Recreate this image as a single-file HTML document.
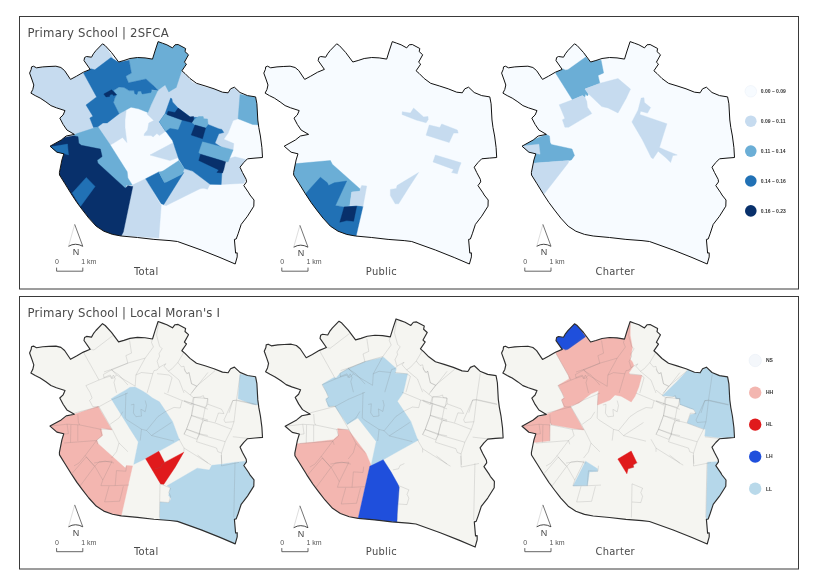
<!DOCTYPE html><html><head><meta charset="utf-8"><title>Primary School accessibility maps</title>
<style>
html,body{margin:0;padding:0;background:#fff;}
body{width:831px;height:584px;overflow:hidden;position:relative;font-family:"DejaVu Sans Condensed","DejaVu Sans","Liberation Sans",sans-serif;}
svg{position:absolute;left:0;top:0;}
.ttl{font-family:"DejaVu Sans Condensed","DejaVu Sans","Liberation Sans",sans-serif;font-size:13px;fill:#4a4a4a;letter-spacing:0.2px;}
.lab{font-family:"DejaVu Sans Condensed","DejaVu Sans","Liberation Sans",sans-serif;font-size:11px;fill:#4a4a4a;letter-spacing:0.3px;}
.sc{font-family:"Liberation Sans",sans-serif;font-size:7px;fill:#555;}
.nn{font-family:"Liberation Sans",sans-serif;font-size:9px;fill:#444;}
.lg{font-family:"Liberation Sans",sans-serif;font-size:5px;font-weight:bold;fill:#333;}
</style></head><body>
<svg width="831" height="584" viewBox="0 0 831 584">
<defs>
<path id="ol" d="M50.0 146.2 L61.2 140.0 L66.2 136.0 L74.4 134.4 L66.9 130.0 L63.1 124.4 L59.8 118.1 L63.1 115.0 L65.0 110.6 L56.4 107.8 L50.9 105.6 L45.9 101.9 L40.2 98.1 L35.2 95.6 L30.9 93.1 L32.8 89.4 L33.8 85.0 L32.1 80.0 L29.6 73.1 L31.2 69.4 L31.5 66.9 L33.4 66.2 L36.5 67.8 L42.8 66.9 L49.0 66.5 L55.9 66.2 L60.9 67.5 L64.6 70.6 L70.5 79.4 L76.5 76.2 L83.4 72.2 L90.2 69.4 L84.0 60.6 L84.6 57.5 L86.5 56.5 L91.5 57.2 L93.4 53.8 L95.9 50.6 L102.5 43.8 L105.2 45.6 L111.5 52.5 L118.6 62.0 L123.9 60.5 L130.0 58.5 L137.5 57.5 L145.0 57.9 L152.5 59.1 L155.0 51.0 L158.1 41.6 L162.5 43.2 L166.9 44.8 L172.5 47.9 L175.0 44.8 L178.1 44.5 L185.6 48.5 L185.0 51.6 L188.5 54.8 L184.4 62.2 L186.5 64.1 L181.9 70.8 L185.0 73.5 L190.0 78.5 L196.5 83.3 L205.0 85.9 L214.0 88.8 L222.5 92.2 L228.1 92.8 L230.6 88.8 L234.4 87.2 L240.0 92.5 L247.5 95.6 L255.6 96.9 L256.9 103.8 L257.8 120.0 L258.8 127.5 L260.4 136.0 L261.9 147.5 L262.5 157.5 L255.0 158.1 L247.5 158.8 L243.8 162.5 L240.0 167.2 L242.5 172.5 L246.2 179.4 L246.5 181.9 L243.8 185.6 L248.8 192.9 L250.0 195.0 L254.0 200.0 L253.8 206.2 L247.5 216.2 L241.2 224.4 L238.1 233.8 L236.2 239.0 L234.4 239.4 L235.6 253.1 L237.2 252.8 L237.2 256.9 L235.2 264.0 L220.0 257.5 L201.2 250.0 L177.5 241.5 L170.0 240.6 L153.9 239.4 L137.5 237.5 L121.2 236.0 L112.5 234.4 L103.8 231.2 L96.2 226.2 L88.8 218.1 L82.5 210.0 L76.9 202.5 L71.2 193.8 L65.0 183.8 L59.5 175.0 L59.4 172.5 L61.9 160.0 L63.8 153.8 L56.9 152.2Z"/>
<clipPath id="clip"><use href="#ol"/></clipPath>
<g id="arrow"><path d="M74.7 224.4 L68.5 246.3 Q75.4 242.2 82.8 246.3 Z" fill="#fff"/>
<path d="M74.7 224.4 L68.5 246.3" fill="none" stroke="#b5b5b5" stroke-width="0.45"/>
<path d="M74.7 224.4 L82.8 246.3" fill="none" stroke="#3a3a3a" stroke-width="0.7"/>
<path d="M68.5 246.3 Q75.4 242.2 82.8 246.3" fill="none" stroke="#333" stroke-width="0.9"/>
<text class="nn" x="75.9" y="255.3" text-anchor="middle">N</text></g>
<g id="bar"><path d="M56.6 267.6 V271.2 H82.8 V267.6" fill="none" stroke="#555" stroke-width="0.9"/>
<text class="sc" x="56.9" y="264.1" text-anchor="middle">0</text><text class="sc" x="81.2" y="264.1">1 km</text></g>
<path id="tl" d="M83.4 72.3 L99.0 100.1 L104.0 98.2 L103.4 94.5 L111.5 90.1 L127.9 83.2 M90.2 69.5 L94.0 70.1 L112.8 55.7 M99.0 100.1 L85.9 105.7 L90.2 113.0 M104.0 98.2 L110.2 96.3 L111.5 98.8 L113.4 95.1 L115.2 98.8 L114.0 102.6 L116.5 113.0 M111.5 90.1 L119.0 95.1 L127.9 105.1 M129.6 60.7 L131.5 73.2 L125.9 75.7 L127.8 83.2 L111.5 89.5 L104.0 92.0 M127.8 83.2 L145.2 78.2 M152.1 60.1 L151.5 62.6 L153.4 67.0 L145.2 78.2 L135.9 95.1 L135.2 106.3 M159.0 42.0 L156.5 55.1 L159.6 66.3 L162.1 68.8 L159.0 73.8 L159.6 76.3 L157.1 81.3 L159.0 87.6 L165.9 83.8 M184.0 72.0 L177.8 82.6 L172.1 88.8 L168.4 91.3 L164.0 86.3 L165.9 83.8 M177.8 82.6 L181.5 87.0 L184.0 86.3 L185.2 91.3 L187.8 93.8 L189.0 92.6 L191.5 103.8 L197.1 106.3 M135.9 95.1 L141.5 92.6 L152.8 93.8 L154.0 90.7 L157.1 90.1 L159.0 87.6 M111.5 89.5 L116.5 95.1 L112.8 98.8 L110.2 95.1 L104.0 97.6 M116.5 95.1 L135.2 106.3 M152.8 93.8 L147.1 113.0 M157.1 93.8 L169.0 95.1 L172.1 97.6 L167.8 113.0 M168.4 91.3 L179.0 100.1 L184.0 113.0 M197.1 106.3 L207.9 92.6 M197.1 106.3 L191.5 113.0 M215.2 90.7 L196.5 106.3 L190.2 115.1 L184.0 110.1 M184.0 88.8 L186.5 93.8 L189.0 92.6 L191.5 103.8 L196.5 106.3 M190.2 115.1 L193.4 117.6 L200.2 117.0 L203.4 115.7 L204.0 118.2 L207.8 118.8 L205.9 127.6 M193.4 117.6 L191.5 125.1 L184.0 121.3 M232.8 120.7 L236.5 120.1 L240.2 94.5 M232.8 120.7 L229.0 133.0 M236.5 120.1 L256.5 124.5 M77.8 134.3 L78.4 142.5 L79.6 145.0 L100.2 149.3 L102.1 155.6 L96.5 160.6 L97.8 164.3 M50.2 146.2 L67.1 144.3 L79.6 145.0 M67.1 144.3 L68.4 153.7 L64.0 154.3 M70.9 145.0 L70.5 162.5 M77.8 145.0 L77.8 161.2 M64.0 163.1 L96.5 160.6 M96.5 160.6 L85.2 175.6 L94.0 186.0 M85.2 175.6 L79.0 183.1 L74.0 186.0 M94.0 183.1 L105.2 181.2 L114.0 183.1 M90.2 113.1 L92.1 118.1 L89.6 120.6 L92.8 126.8 L99.0 126.8 L111.5 120.0 L127.9 113.1 M74.6 133.1 L99.0 126.8 L112.1 149.3 L100.2 149.3 M110.2 144.3 L119.0 138.1 L122.8 131.8 M112.1 149.3 L119.0 163.1 L116.5 171.8 L111.5 178.1 M119.0 163.1 L127.9 171.8 M125.9 113.1 L125.2 138.1 L127.1 140.0 L141.5 149.3 L146.5 150.6 L157.8 136.8 L165.2 131.8 M141.5 149.3 L140.2 160.6 M146.5 150.6 L151.5 155.6 L171.5 142.5 M151.5 155.6 L174.0 161.2 M130.9 125.0 L134.0 124.3 L133.4 133.1 L135.9 136.8 L141.5 136.2 L140.9 129.3 L145.2 131.8 L146.5 125.6 L145.2 120.6 M165.2 131.8 L174.0 127.5 L180.2 128.1 L182.1 120.6 L194.0 124.3 L207.9 129.3 M182.1 120.6 L164.0 113.1 M194.0 124.3 L191.5 135.6 L186.5 149.3 L184.0 154.3 L196.5 159.3 L199.0 155.6 L201.5 144.3 L204.0 140.6 L207.9 141.2 M191.5 135.6 L207.9 140.0 M186.5 149.3 L201.5 154.3 L207.9 155.6 M179.0 159.3 L184.0 168.1 L207.9 183.1 M184.0 168.1 L184.0 171.8 M184.0 120.6 L194.0 124.3 L205.2 127.5 L207.8 124.3 L221.5 129.3 L224.0 133.7 L218.4 133.1 L215.2 142.5 M194.0 117.5 L207.8 118.7 L207.8 124.3 M194.0 117.5 L191.5 135.6 L186.5 149.3 L184.0 154.3 M205.2 127.5 L202.8 140.0 L199.0 154.3 L196.5 161.8 M191.5 135.6 L202.8 140.0 L215.2 143.1 L231.5 149.3 M186.5 149.3 L199.0 154.3 L225.2 161.8 M196.5 161.8 L216.5 168.1 L217.8 171.8 L221.5 173.1 M232.8 120.6 L236.5 120.6 L234.0 141.8 L231.5 149.3 L225.2 161.8 L221.5 173.1 L221.5 186.0 M232.8 120.6 L224.0 140.0 L225.2 142.5 L234.0 141.8 M236.5 120.6 L256.5 125.0 M232.8 156.8 L244.0 158.1 L251.5 158.7 M221.5 186.0 L239.0 182.5 M86.2 177.2 L94.8 186.2 L80.0 206.2 L71.9 193.7 L86.2 177.2 M94.8 186.2 L102.8 200.1 L100.9 205.7 L115.2 205.7 L129.0 205.1 M94.8 186.2 L99.0 182.0 L112.1 181.3 L102.8 200.1 M116.5 190.7 L125.9 191.3 L126.5 185.7 M116.5 190.7 L115.2 205.7 M109.0 206.3 L104.6 222.0 L119.6 221.3 L123.4 206.3 M235.0 182.6 L233.8 237.6 M197.5 175.1 L208.8 183.8 L211.2 185.1 M221.2 175.1 L221.9 183.8 M155.0 188.8 L160.6 187.6 L161.9 184.5 L166.2 182.6 M160.0 203.8 L159.4 237.6 M160.0 203.8 L170.6 208.2 L168.8 212.6 L170.6 216.3 L168.8 222.6 L160.0 222.0" fill="none" stroke="#707070" stroke-opacity="0.21" stroke-width="0.85" stroke-linejoin="round"/>
</defs>
<rect x="19.5" y="16.5" width="779" height="272.5" fill="#fff" stroke="#3a3a3a" stroke-width="1"/>
<rect x="19.5" y="296.5" width="779" height="272.5" fill="#fff" stroke="#3a3a3a" stroke-width="1"/>
<text class="ttl" x="27.6" y="37">Primary School | 2SFCA</text>
<text class="ttl" x="27.6" y="317">Primary School | Local Moran's I</text>
<g transform="translate(0,0)">
<use href="#ol" fill="#f7fbff"/>
<g clip-path="url(#clip)">
<polygon points="66.2,136.0 74.4,134.4 66.9,130.0 63.1,124.4 59.8,118.1 63.1,115.0 65.0,110.6 56.4,107.8 50.9,105.6 45.9,101.9 40.2,98.1 35.2,95.6 30.9,93.1 32.8,89.4 33.8,85.0 32.1,80.0 29.6,73.1 31.2,69.4 31.5,66.9 33.4,66.2 36.5,67.8 42.8,66.9 49.0,66.5 55.9,66.2 60.9,67.5 64.6,70.6 70.5,79.4 76.5,76.2 83.4,72.2 90.2,69.4 97.0,80.0 97.0,125.0 90.0,132.0 74.0,137.0" fill="#c6dbef" stroke="#c6dbef" stroke-width="0.4"/>
<polygon points="90.2,69.4 84.0,60.6 84.6,57.5 86.5,56.5 91.5,57.2 93.4,53.8 95.9,50.6 102.5,43.8 105.2,45.6 113.0,58.0 96.0,72.0" fill="#c6dbef" stroke="#c6dbef" stroke-width="0.4"/>
<polygon points="95.0,128.0 103.0,122.0 106.0,121.0 119.1,113.8 124.0,110.5 126.2,110.6 125.0,120.0 125.0,127.5 126.9,142.5 122.5,137.5 113.8,143.1 109.0,145.5 100.0,135.0" fill="#c6dbef" stroke="#c6dbef" stroke-width="0.4"/>
<polygon points="146.9,113.8 153.8,120.6 148.8,123.1 147.5,130.0 144.4,133.8 144.0,135.6 151.2,135.6 153.1,136.9 156.9,133.5 159.4,135.6 165.6,131.2 175.0,135.0 200.0,140.0 215.0,147.0 233.1,149.9 233.8,143.6 223.8,139.2 228.1,133.1 233.1,120.6 238.1,118.8 243.0,118.0 243.0,94.5 240.5,93.8 234.3,87.7 230.5,89.7 228.8,93.0 223.0,92.2 214.7,89.3 205.5,87.2 193.0,82.7 182.2,71.3 175.0,75.0 168.0,82.0 166.0,85.0 157.9,90.2 147.9,112.5" fill="#c6dbef" stroke="#c6dbef" stroke-width="0.4"/>
<polygon points="150.0,155.0 172.5,143.1 180.0,156.9 170.0,160.6" fill="#c6dbef" stroke="#c6dbef" stroke-width="0.4"/>
<polygon points="222.5,160.5 235.0,156.8 247.5,159.9 240.0,166.8 245.6,179.2 244.0,183.2 221.2,184.5 210.0,184.5" fill="#c6dbef" stroke="#c6dbef" stroke-width="0.4"/>
<polygon points="132.5,185.0 145.6,178.8 160.0,203.8 161.2,205.6 158.8,238.1 121.2,235.6 126.9,207.5" fill="#c6dbef" stroke="#c6dbef" stroke-width="0.4"/>
<polygon points="175.0,173.8 190.0,170.0 203.9,180.6 203.9,188.1 200.0,188.8 166.2,205.6 163.1,205.0 150.0,182.5" fill="#c6dbef" stroke="#c6dbef" stroke-width="0.4"/>
<polygon points="184.4,168.6 192.5,171.1 210.0,184.2 207.5,189.2 201.2,187.4 176.2,195.9 167.5,193.0" fill="#c6dbef" stroke="#c6dbef" stroke-width="0.4"/>
<polygon points="74.0,135.0 77.0,133.5 97.9,126.8 109.8,144.2 127.2,171.8 127.9,178.0 132.2,184.9 126.0,185.5 126.0,189.2 113.5,185.5 88.5,164.2 76.0,148.0" fill="#6baed6" stroke="#6baed6" stroke-width="0.4"/>
<polygon points="129.1,60.2 130.0,58.5 137.5,57.5 145.0,57.9 152.5,59.1 155.0,51.0 158.1,41.6 162.5,43.2 166.9,44.8 172.5,47.9 175.0,44.8 178.1,44.5 185.6,48.5 185.0,51.6 188.5,54.8 184.4,62.2 186.5,64.1 181.9,70.8 181.9,70.0 176.2,87.5 171.9,90.0 168.8,91.9 165.2,85.0 157.9,90.2 154.1,86.2 146.0,79.0 128.5,82.8 125.8,76.2 131.4,73.1" fill="#6baed6" stroke="#6baed6" stroke-width="0.4"/>
<polygon points="113.5,90.6 119.1,86.9 124.1,87.5 129.1,90.6 157.9,90.2 151.0,105.0 147.9,112.5 138.5,108.8 131.0,107.2 126.0,110.0 119.1,113.8 113.5,102.5 114.8,98.1 116.6,94.8" fill="#6baed6" stroke="#6baed6" stroke-width="0.4"/>
<polygon points="240.0,94.4 255.6,96.9 256.9,103.8 258.1,120.0 258.5,125.0 252.5,124.4 238.1,118.8" fill="#6baed6" stroke="#6baed6" stroke-width="0.4"/>
<polygon points="83.5,73.1 91.0,68.8 94.8,69.8 111.0,57.5 118.5,62.2 129.1,60.2 131.4,73.1 125.8,76.2 128.5,82.8 146.0,79.0 154.1,86.2 157.9,90.2 151.6,89.8 151.0,92.5 142.2,94.0 141.0,91.0 137.9,91.2 137.0,94.4 134.8,93.8 134.1,90.6 129.1,90.6 124.1,87.5 119.1,86.9 113.5,90.6 116.6,94.8 114.8,98.1 113.5,102.5 119.1,113.8 107.2,122.9 102.9,123.0 97.9,126.8 93.5,127.4 89.8,118.1 92.9,116.2 86.0,105.0 96.6,96.9" fill="#2171b5" stroke="#2171b5" stroke-width="0.4"/>
<polygon points="49.8,147.0 67.5,144.1 68.5,154.9 63.9,153.6 58.0,152.9" fill="#2171b5" stroke="#2171b5" stroke-width="0.4"/>
<polygon points="165.0,113.8 170.6,98.1 171.9,98.8 172.5,101.9 178.1,108.1 190.0,116.9 197.5,117.5 208.1,124.4 218.8,128.8 221.9,129.4 223.8,132.5 218.8,133.8 215.0,143.0 222.5,148.0 222.5,172.4 221.9,173.0 221.2,184.5 210.0,184.2 192.5,171.1 184.4,168.6 178.8,159.2 172.5,140.5 165.6,131.1 165.6,131.2 159.4,121.9" fill="#2171b5" stroke="#2171b5" stroke-width="0.4"/>
<polygon points="145.6,178.8 158.8,171.9 164.4,182.5 183.8,172.5 163.8,204.4 161.2,203.8" fill="#2171b5" stroke="#2171b5" stroke-width="0.4"/>
<polygon points="159.4,121.9 165.0,113.8 168.1,115.0 181.9,120.0 178.1,129.4 170.0,128.1 165.6,131.2" fill="#6baed6" stroke="#6baed6" stroke-width="0.4"/>
<polygon points="191.9,122.5 193.8,119.4 198.8,116.5 203.1,116.5 203.8,118.8 207.5,119.0 208.1,124.4 205.6,127.8 195.0,125.0" fill="#6baed6" stroke="#6baed6" stroke-width="0.4"/>
<polygon points="202.5,141.8 233.1,149.9 228.1,161.8 225.6,161.8 200.6,154.2 198.8,152.4" fill="#6baed6" stroke="#6baed6" stroke-width="0.4"/>
<polygon points="158.8,171.9 175.0,169.4 183.8,172.5 164.4,182.5" fill="#6baed6" stroke="#6baed6" stroke-width="0.4"/>
<polygon points="160.0,173.0 178.8,160.5 184.4,168.6 181.9,174.2 165.6,182.4" fill="#6baed6" stroke="#6baed6" stroke-width="0.4"/>
<polygon points="64.7,137.5 73.8,135.8 78.0,136.7 78.8,143.3 81.3,145.3 100.4,149.1 102.1,156.6 97.1,160.2 97.9,163.2 125.3,188.2 127.8,185.7 132.8,186.5 123.3,232.0 121.2,236.0 112.5,234.4 103.8,231.2 96.2,226.2 88.8,218.1 82.5,210.0 76.9,202.5 71.2,193.8 65.0,183.8 59.5,175.0 59.4,172.5 61.9,160.0 63.8,153.8 56.9,152.2 50.0,146.2 61.2,140.0 66.2,136.0" fill="#08306b" stroke="#08306b" stroke-width="0.4"/>
<polygon points="103.8,94.0 111.6,89.8 116.6,94.8 113.5,95.6 112.2,94.0 109.8,95.0 109.5,96.5 106.0,96.9" fill="#08306b" stroke="#08306b" stroke-width="0.4"/>
<polygon points="166.9,114.4 168.1,111.2 175.0,112.5 178.1,108.1 190.0,116.9 193.5,116.5 193.8,119.4 191.9,122.5 181.9,120.0 168.1,115.0" fill="#08306b" stroke="#08306b" stroke-width="0.4"/>
<polygon points="195.0,125.0 205.6,128.1 202.5,138.8 191.2,135.0" fill="#08306b" stroke="#08306b" stroke-width="0.4"/>
<polygon points="200.6,154.2 225.6,161.8 223.8,169.5 222.5,173.0 216.9,172.4 218.8,169.9 198.8,160.5" fill="#08306b" stroke="#08306b" stroke-width="0.4"/>
<polygon points="86.3,177.4 95.1,186.5 80.5,206.4 72.2,193.1" fill="#2171b5" stroke="#2171b5" stroke-width="0.4"/>
<polygon points="49.8,147.0 67.5,144.1 68.5,154.9 63.9,153.6 58.0,152.9" fill="#2171b5" stroke="#2171b5" stroke-width="0.4"/>
</g>
<use href="#ol" fill="none" stroke="#111" stroke-width="1" stroke-linejoin="round"/>
</g>
<use href="#arrow" transform="translate(0,0)"/>
<use href="#bar" transform="translate(0,0)"/>
<text class="lab" x="146.3" y="275" text-anchor="middle">Total</text>
<g transform="translate(234.2,0)">
<use href="#ol" fill="#f7fbff"/>
<g clip-path="url(#clip)">
<polygon points="50.0,163.9 62.5,163.6 96.2,160.5 98.1,164.2 126.2,189.2 126.2,188.8 125.6,191.2 117.5,191.9 115.6,205.6 109.4,206.9 101.2,205.6 60.0,250.0 40.0,200.0" fill="#6baed6" stroke="#6baed6" stroke-width="0.4"/>
<polygon points="72.5,192.5 76.9,187.5 86.2,177.2 93.1,182.8 94.4,185.6 100.0,182.8 112.5,181.0 101.2,205.6 109.4,206.9 123.1,205.6 128.8,206.2 121.9,236.0 120.0,240.0 87.5,225.0 68.8,197.5" fill="#2171b5" stroke="#2171b5" stroke-width="0.4"/>
<polygon points="126.2,188.8 127.5,185.6 132.5,186.0 128.8,206.2 123.1,205.6 115.6,205.6 117.5,191.9 125.6,191.2" fill="#c6dbef" stroke="#c6dbef" stroke-width="0.4"/>
<polygon points="110.0,206.9 122.5,206.2 119.4,221.2 112.5,220.6 105.6,222.2" fill="#08306b" stroke="#08306b" stroke-width="0.4"/>
<polygon points="168.1,111.7 176.2,113.1 179.4,108.1 189.4,116.9 193.8,116.5 194.0,119.4 191.9,122.8 181.9,120.0 167.8,114.4" fill="#c6dbef" stroke="#c6dbef" stroke-width="0.4"/>
<polygon points="195.0,125.0 205.6,127.5 207.5,124.0 223.1,130.0 224.0,133.1 219.4,133.1 215.0,142.5 191.9,135.2" fill="#c6dbef" stroke="#c6dbef" stroke-width="0.4"/>
<polygon points="201.2,155.0 226.9,162.8 225.0,167.5 223.1,173.8 217.5,172.5 219.4,169.4 198.8,161.9" fill="#c6dbef" stroke="#c6dbef" stroke-width="0.4"/>
<polygon points="184.4,172.5 175.0,186.9 164.4,203.8 161.0,203.8 156.2,195.6 156.2,189.4 162.2,188.5 162.8,185.6" fill="#c6dbef" stroke="#c6dbef" stroke-width="0.4"/>
</g>
<use href="#ol" fill="none" stroke="#111" stroke-width="1" stroke-linejoin="round"/>
</g>
<use href="#arrow" transform="translate(225.2,0.9)"/>
<use href="#bar" transform="translate(225.2,0)"/>
<text class="lab" x="381.4" y="275" text-anchor="middle">Public</text>
<g transform="translate(472,0)">
<use href="#ol" fill="#f7fbff"/>
<g clip-path="url(#clip)">
<polygon points="83.5,72.9 88.0,66.0 100.0,40.0 113.5,56.8 118.6,62.0 123.9,60.5 129.1,60.3 131.6,72.9 126.0,75.4 127.9,83.5 112.9,88.8 116.3,94.1 115.4,96.0 113.5,94.1 112.9,97.2 110.4,95.6 100.4,99.8" fill="#6baed6" stroke="#6baed6" stroke-width="0.4"/>
<polygon points="80.0,60.0 100.0,38.0 113.5,56.8 96.0,69.2 93.5,69.8 91.0,68.5 90.2,69.4" fill="#f7fbff" stroke="#f7fbff" stroke-width="0.4"/>
<polygon points="87.2,104.8 100.4,99.8 110.4,95.6 112.9,97.2 114.8,101.6 115.4,107.2 119.8,113.5 109.1,119.8 96.6,127.2 92.9,127.2 90.4,119.8 92.9,118.5" fill="#c6dbef" stroke="#c6dbef" stroke-width="0.4"/>
<polygon points="112.9,89.1 127.2,83.5 146.0,78.5 158.5,89.1 154.1,98.5 146.0,112.9 136.0,107.9 129.8,106.6 116.6,94.1" fill="#c6dbef" stroke="#c6dbef" stroke-width="0.4"/>
<polygon points="169.2,98.1 172.0,97.8 172.4,102.5 178.6,107.5 175.5,113.1 168.6,111.2 167.8,114.4 194.9,123.8 187.4,147.5 193.0,150.0 205.2,155.0 200.8,155.6 198.6,162.5 194.2,158.0 186.1,151.2 181.1,158.8 179.2,157.5 170.5,140.0 159.9,121.9 166.1,110.0" fill="#c6dbef" stroke="#c6dbef" stroke-width="0.4"/>
<polygon points="45.0,146.0 74.4,134.5 77.5,136.1 78.1,142.4 79.4,144.5 100.0,149.0 102.5,155.5 99.4,159.9 96.9,160.5 63.1,163.0 50.0,163.0" fill="#6baed6" stroke="#6baed6" stroke-width="0.4"/>
<polygon points="50.0,146.1 66.9,144.2 68.1,154.2 63.8,153.6 56.9,152.2 48.0,150.0" fill="#c6dbef" stroke="#c6dbef" stroke-width="0.4"/>
<polygon points="55.0,163.5 63.1,163.0 96.9,160.5 96.2,163.0 72.5,193.5 60.0,195.0" fill="#c6dbef" stroke="#c6dbef" stroke-width="0.4"/>
</g>
<use href="#ol" fill="none" stroke="#111" stroke-width="1" stroke-linejoin="round"/>
</g>
<use href="#arrow" transform="translate(468.2,0)"/>
<use href="#bar" transform="translate(468.2,0)"/>
<text class="lab" x="615.2" y="275" text-anchor="middle">Charter</text>
<g transform="translate(0,279.9)">
<use href="#ol" fill="#f5f5f1"/>
<g clip-path="url(#clip)">
<polygon points="40.0,146.0 74.4,134.4 98.1,126.5 111.9,150.0 101.2,148.1 102.5,155.6 96.9,160.0 98.1,163.8 125.3,188.2 126.5,185.6 132.5,186.0 121.2,236.0 118.0,245.0 60.0,230.0" fill="#f3b6b0" stroke="#f3b6b0" stroke-width="0.4"/>
<polygon points="111.2,118.8 119.4,113.8 126.0,110.0 130.0,107.4 135.0,107.1 141.2,110.4 146.9,113.8 152.5,118.1 159.4,121.9 165.6,131.2 172.5,141.5 178.8,158.5 180.0,159.6 158.8,171.4 145.6,178.8 133.8,184.4 138.3,162.0 130.0,149.0" fill="#b5d7ea" stroke="#b5d7ea" stroke-width="0.4"/>
<polygon points="145.6,178.8 158.8,171.4 164.6,182.5 183.8,172.3 175.0,187.5 163.8,204.4 160.6,204.0" fill="#e01a1c" stroke="#e01a1c" stroke-width="0.4"/>
<polygon points="240.0,94.4 255.6,96.9 263.8,96.9 263.8,125.0 258.5,125.0 252.5,124.4 238.1,118.8" fill="#b5d7ea" stroke="#b5d7ea" stroke-width="0.4"/>
<polygon points="167.1,205.9 197.2,188.3 209.3,190.2 211.8,185.4 221.9,184.4 233.8,182.5 246.0,181.3 270.0,181.0 270.0,280.0 150.0,280.0 159.8,239.0 160.1,222.2 168.7,223.0 171.1,218.9 168.7,215.7 170.3,207.5" fill="#b5d7ea" stroke="#b5d7ea" stroke-width="0.4"/>
<use href="#tl"/>
</g>
<use href="#ol" fill="none" stroke="#2e2e2e" stroke-width="1.150" stroke-linejoin="round"/>
</g>
<use href="#arrow" transform="translate(0,280.5)"/>
<use href="#bar" transform="translate(0,280.5)"/>
<text class="lab" x="146.3" y="555" text-anchor="middle">Total</text>
<g transform="translate(233.9,276.3) scale(1.0256)">
<use href="#ol" fill="#f5f5f1"/>
<g clip-path="url(#clip)">
<polygon points="50.0,164.0 62.5,163.2 78.6,161.6 96.9,159.4 101.9,155.0 101.2,148.4 111.9,150.0 128.8,172.5 133.8,184.4 132.5,186.0 121.2,236.0 118.0,245.0 60.0,230.0" fill="#f3b6b0" stroke="#f3b6b0" stroke-width="0.4"/>
<polygon points="86.3,105.3 97.0,98.9 99.6,99.1 103.8,94.3 111.6,89.8 116.4,88.1 128.5,83.0 146.0,79.0 154.1,86.2 158.3,90.0 157.3,94.5 169.3,95.2 167.1,105.0 165.0,113.8 159.4,121.9 165.6,131.2 172.5,141.5 178.8,158.5 180.0,159.6 158.8,171.4 145.6,178.8 133.8,184.4 138.8,161.0 120.9,138.1 110.5,144.4 98.1,126.3 92.0,127.3 89.6,119.5 92.5,117.6" fill="#b5d7ea" stroke="#b5d7ea" stroke-width="0.4"/>
<polygon points="132.5,185.3 145.6,178.8 153.3,190.9 159.8,202.5 161.2,205.6 159.2,232.0 158.8,245.0 119.0,245.0 121.2,236.0" fill="#1f4fdc" stroke="#1f4fdc" stroke-width="0.4"/>
<use href="#tl"/>
</g>
<use href="#ol" fill="none" stroke="#2e2e2e" stroke-width="1.121" stroke-linejoin="round"/>
</g>
<use href="#arrow" transform="translate(225.2,281.4)"/>
<use href="#bar" transform="translate(225.2,280.5)"/>
<text class="lab" x="381.4" y="555" text-anchor="middle">Public</text>
<g transform="translate(472,280)">
<use href="#ol" fill="#f5f5f1"/>
<g clip-path="url(#clip)">
<polygon points="83.4,72.2 80.0,40.0 158.1,36.0 158.2,43.2 158.2,55.5 160.4,67.8 158.2,79.3 160.5,82.0 161.8,85.6 156.8,93.1 158.0,94.4 169.9,95.6 166.8,106.9 163.0,116.2 159.2,121.9 149.2,116.2 143.0,115.0 138.0,120.0 125.5,125.0 126.5,110.6 119.0,113.8 107.0,123.0 98.3,126.3 111.8,150.0 101.5,148.4 79.4,144.4 78.1,142.5 77.7,160.8 64.7,162.2 55.0,163.0 40.0,146.0 74.4,134.4 92.0,127.3 89.6,119.5 92.5,117.6 86.3,105.3 97.1,98.9 96.5,95.6" fill="#f3b6b0" stroke="#f3b6b0" stroke-width="0.4"/>
<polygon points="80.0,60.0 100.0,38.0 113.5,56.8 96.0,69.2 93.5,69.8 91.0,68.5 90.2,69.4" fill="#1f4fdc" stroke="#1f4fdc" stroke-width="0.4"/>
<polygon points="145.8,179.0 159.2,171.0 164.9,182.8 161.1,185.0 161.8,187.2 156.1,188.8 154.9,193.8" fill="#e01a1c" stroke="#e01a1c" stroke-width="0.4"/>
<polygon points="113.6,181.2 125.5,188.8 125.5,191.2 117.4,191.9 115.5,205.6 101.1,206.0" fill="#b5d7ea" stroke="#b5d7ea" stroke-width="0.4"/>
<polygon points="215.7,90.2 216.0,80.0 270.0,80.0 270.0,157.4 245.8,157.6 232.8,156.0 233.5,149.6 215.4,143.0 218.5,134.6 222.2,134.1 223.7,132.3 221.9,129.4 218.8,128.8 208.1,124.4 207.5,118.8 203.8,118.8 203.1,116.5 198.8,116.2 190.4,115.8 205.5,101.0" fill="#b5d7ea" stroke="#b5d7ea" stroke-width="0.4"/>
<polygon points="235.6,182.2 260.0,181.0 260.0,245.0 234.2,240.0" fill="#b5d7ea" stroke="#b5d7ea" stroke-width="0.4"/>
<use href="#tl"/>
</g>
<use href="#ol" fill="none" stroke="#2e2e2e" stroke-width="1.150" stroke-linejoin="round"/>
</g>
<use href="#arrow" transform="translate(468.2,280.5)"/>
<use href="#bar" transform="translate(468.2,280.5)"/>
<text class="lab" x="615.2" y="555" text-anchor="middle">Charter</text>
<circle cx="750.8" cy="91.3" r="5.8" fill="#f7fbff" stroke="#e9eff7" stroke-width="0.5"/>
<text class="lg" x="760.8" y="93.1">0.00 – 0.09</text>
<circle cx="750.8" cy="121.2" r="5.8" fill="#c6dbef"/>
<text class="lg" x="760.8" y="123.0">0.09 – 0.11</text>
<circle cx="750.8" cy="151.1" r="5.8" fill="#6baed6"/>
<text class="lg" x="760.8" y="152.9">0.11 – 0.14</text>
<circle cx="750.8" cy="181.0" r="5.8" fill="#2171b5"/>
<text class="lg" x="760.8" y="182.8">0.14 – 0.16</text>
<circle cx="750.8" cy="210.9" r="5.8" fill="#08306b"/>
<text class="lg" x="760.8" y="212.7">0.16 – 0.23</text>
<circle cx="755.2" cy="360.5" r="6.2" fill="#f4f7fb" stroke="#e6ecf4" stroke-width="0.5"/>
<text class="lg" x="765.9" y="362.3">NS</text>
<circle cx="755.2" cy="392.6" r="6.2" fill="#f3b6b0"/>
<text class="lg" x="765.9" y="394.4">HH</text>
<circle cx="755.2" cy="424.6" r="6.2" fill="#e01a1c"/>
<text class="lg" x="765.9" y="426.4">HL</text>
<circle cx="755.2" cy="456.6" r="6.2" fill="#1f4fdc"/>
<text class="lg" x="765.9" y="458.4">LH</text>
<circle cx="755.2" cy="488.7" r="6.2" fill="#b9d9ea"/>
<text class="lg" x="765.9" y="490.5">LL</text>
</svg></body></html>
